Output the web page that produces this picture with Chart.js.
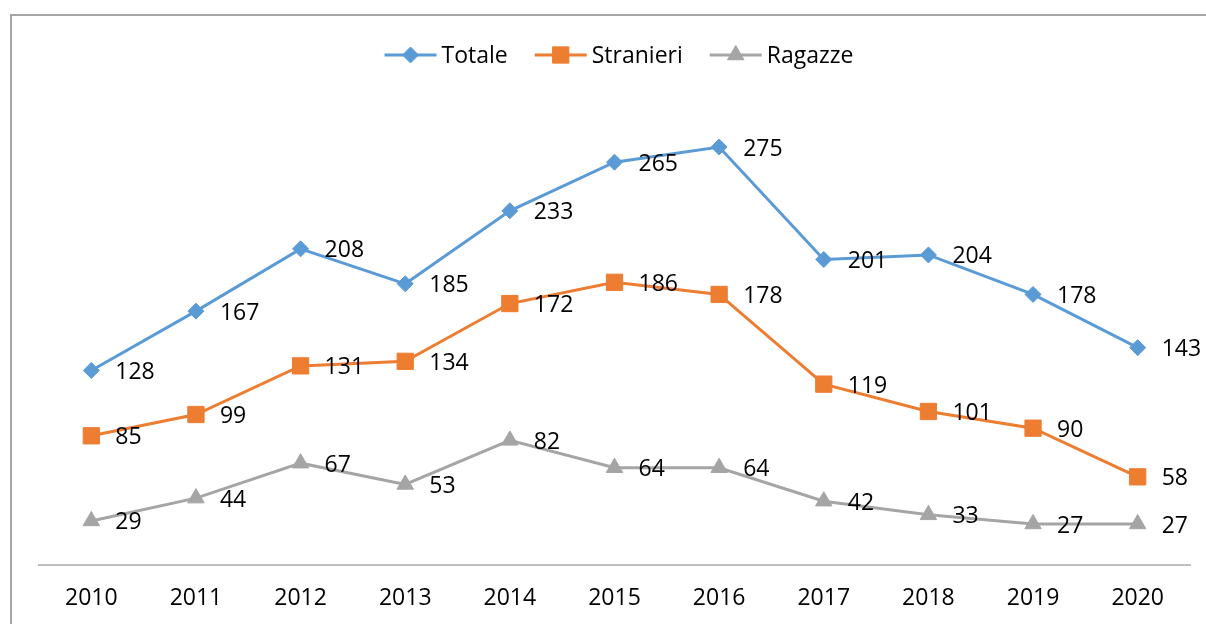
<!DOCTYPE html>
<html>
<head>
<meta charset="utf-8">
<script src="https://cdn.jsdelivr.net/npm/chart.js@4/dist/chart.umd.min.js"></script>
<style>
  html, body { margin: 0; padding: 0; background: #fff; }
  #wrap { width: 1206px; height: 624px; position: relative; }
</style>
</head>
<body>
<div id="wrap"><canvas id="chart"></canvas></div>
<script>
// --- data ---
const years = ['2010', '2011', '2012', '2013', '2014', '2015', '2016', '2017', '2018', '2019', '2020'];
const totale = [128, 167, 208, 185, 233, 265, 275, 201, 204, 178, 143];
const stranieri = [85, 99, 131, 134, 172, 186, 178, 119, 101, 90, 58];
const ragazze = [29, 44, 67, 53, 82, 64, 64, 42, 33, 27, 27];

const FONT = "'Open Sans', sans-serif";
const BLUE = '#5b9bd5', ORANGE = '#ed7d31', GREY = '#a5a5a5';

function drawMarker(ctx, style, r, x, y, color) {
  ctx.save();
  ctx.fillStyle = color;
  ctx.strokeStyle = color;
  ctx.lineWidth = 1;
  Chart.helpers.drawPoint(ctx, { pointStyle: style, radius: r, rotation: 0, borderWidth: 1 }, x, y);
  ctx.restore();
}

// frame around the chart (only top and left edges visible)
const framePlugin = {
  id: 'frame',
  beforeDraw(chart) {
    const ctx = chart.ctx;
    ctx.save();
    ctx.strokeStyle = '#a6a6a6';
    ctx.lineWidth = 2;
    ctx.beginPath();
    ctx.moveTo(11, 624);
    ctx.lineTo(11, 15);
    ctx.lineTo(1206, 15);
    ctx.stroke();
    ctx.restore();
  }
};

// value labels to the right of each point
const labelPlugin = {
  id: 'valueLabels',
  afterDatasetsDraw(chart) {
    const ctx = chart.ctx;
    ctx.save();
    ctx.font = '23px ' + FONT;
    ctx.fillStyle = '#000';
    ctx.textAlign = 'left';
    ctx.textBaseline = 'middle';
    chart.data.datasets.forEach((ds, i) => {
      const meta = chart.getDatasetMeta(i);
      meta.data.forEach((pt, j) => {
        ctx.fillText(String(ds.data[j]), pt.x + 24, pt.y + 2);
      });
    });
    ctx.restore();
  }
};

// legend: line + marker + text, centered at top
const legendPlugin = {
  id: 'lineLegend',
  afterDraw(chart) {
    const ctx = chart.ctx;
    ctx.save();
    ctx.font = '23px ' + FONT;
    ctx.textBaseline = 'middle';
    const lineW = 52, gap = 5, itemGap = 27;
    const items = chart.data.datasets.map(ds => ({
      ds, w: lineW + gap + ctx.measureText(ds.label).width
    }));
    const total = items.reduce((s, it) => s + it.w, 0) + itemGap * (items.length - 1);
    let x = 619 - total / 2;
    const y = 55;
    items.forEach(it => {
      ctx.strokeStyle = it.ds.borderColor;
      ctx.lineWidth = 3;
      ctx.beginPath();
      ctx.moveTo(x, y);
      ctx.lineTo(x + lineW, y);
      ctx.stroke();
      drawMarker(ctx, it.ds.pointStyle, it.ds.pointRadius, x + lineW / 2, y, it.ds.borderColor);
      ctx.fillStyle = '#000';
      ctx.fillText(it.ds.label, x + lineW + gap, y + 1);
      x += it.w + itemGap;
    });
    ctx.restore();
  }
};

const ctx = document.getElementById('chart').getContext('2d');
new Chart(ctx, {
  type: 'line',
  data: {
    labels: years,
    datasets: [
      {
        label: 'Totale',
        data: totale,
        borderColor: BLUE,
        backgroundColor: BLUE,
        borderWidth: 3,
        pointStyle: 'rectRot',
        pointRadius: 8,
        pointBorderWidth: 1,
      },
      {
        label: 'Stranieri',
        data: stranieri,
        borderColor: ORANGE,
        backgroundColor: ORANGE,
        borderWidth: 3,
        pointStyle: 'rect',
        pointRadius: 11.5,
        pointBorderWidth: 1,
      },
      {
        label: 'Ragazze',
        data: ragazze,
        borderColor: GREY,
        backgroundColor: GREY,
        borderWidth: 3,
        pointStyle: 'triangle',
        pointRadius: 9.5,
        pointBorderWidth: 1,
      },
    ],
  },
  options: {
    responsive: true,
    maintainAspectRatio: false,
    animation: false,
    layout: { padding: { left: 39, right: 16, top: 109, bottom: 0 } },
    plugins: {
      legend: { display: false },
      tooltip: { enabled: false },
    },
    scales: {
      x: {
        offset: true,
        grid: { display: false, drawTicks: false },
        border: { color: '#bfbfbf', width: 2 },
        ticks: { color: '#000', font: { family: FONT, size: 23 }, padding: 20 },
        afterFit(scale) { scale.height = 59; },
      },
      y: {
        display: false,
        min: 0,
        max: 300,
      },
    },
  },
  plugins: [framePlugin, labelPlugin, legendPlugin],
});
</script>
</body>
</html>
